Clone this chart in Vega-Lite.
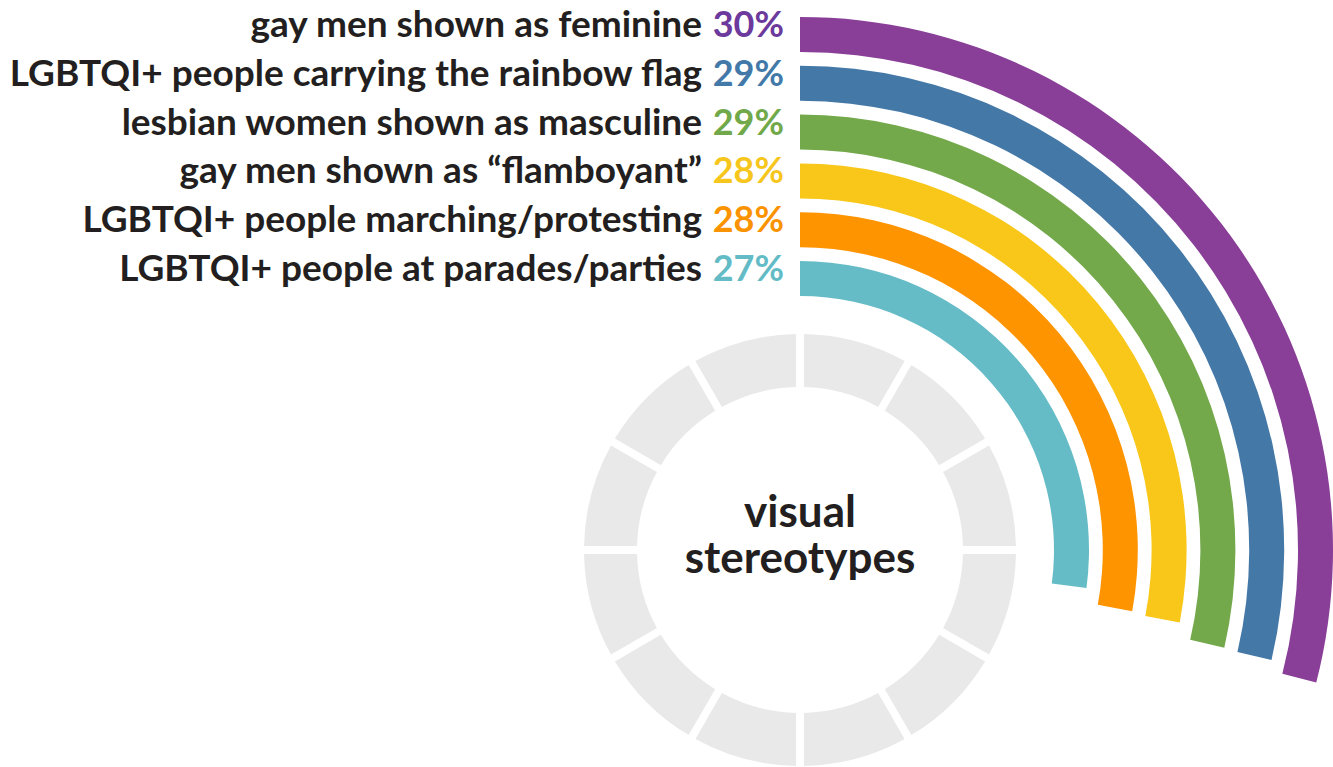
{
  "$schema": "https://vega.github.io/schema/vega-lite/v6.json",
  "width": 400,
  "height": 400,
  "autosize": "none",
  "padding": {"left": 600, "top": 350, "right": 333, "bottom": 17},
  "background": "white",
  "config": {"view": {"stroke": null}, "font": "Lato"},
  "datasets": {
    "items": [
      {"label": "gay men shown as feminine", "pct": "30%", "value": 29.0, "ring": 6},
      {"label": "LGBTQI+ people carrying the rainbow flag", "pct": "29%", "value": 28.65, "ring": 5},
      {"label": "lesbian women shown as masculine", "pct": "29%", "value": 28.6, "ring": 4},
      {"label": "gay men shown as “flamboyant”", "pct": "28%", "value": 28.0, "ring": 3},
      {"label": "LGBTQI+ people marching/protesting", "pct": "28%", "value": 27.9, "ring": 2},
      {"label": "LGBTQI+ people at parades/parties", "pct": "27%", "value": 27.1, "ring": 1}
    ],
    "segments": [
      {"segment": 1, "share": 1}, {"segment": 2, "share": 1}, {"segment": 3, "share": 1},
      {"segment": 4, "share": 1}, {"segment": 5, "share": 1}, {"segment": 6, "share": 1},
      {"segment": 7, "share": 1}, {"segment": 8, "share": 1}, {"segment": 9, "share": 1},
      {"segment": 10, "share": 1}, {"segment": 11, "share": 1}, {"segment": 12, "share": 1}
    ],
    "center": [{"title": ["visual", "stereotypes"]}]
  },
  "layer": [
    {
      "data": {"name": "segments"},
      "mark": {"type": "arc", "radius": 216, "radius2": 163, "padAngle": 0.029, "color": "#e8e9e8"},
      "encoding": {
        "theta": {"field": "share", "type": "quantitative", "stack": true},
        "detail": {"field": "segment", "type": "nominal"},
        "order": {"field": "segment", "type": "quantitative"}
      }
    },
    {
      "data": {"name": "items"},
      "mark": {"type": "arc", "radius2Offset": -35},
      "encoding": {
        "theta": {"field": "value", "type": "quantitative", "stack": null, "scale": {"domain": [0, 100], "range": [0, 6.283185307]}},
        "radius": {"field": "ring", "type": "quantitative", "scale": {"type": "linear", "domain": [1, 6], "range": [289, 533], "zero": false}},
        "radius2": {"field": "ring"},
        "color": {
          "field": "label", "type": "nominal", "legend": null,
          "scale": {
            "domain": ["gay men shown as feminine", "LGBTQI+ people carrying the rainbow flag", "lesbian women shown as masculine", "gay men shown as “flamboyant”", "LGBTQI+ people marching/protesting", "LGBTQI+ people at parades/parties"],
            "range": ["#893e97", "#4478a7", "#73a94b", "#f8c719", "#fe9400", "#65bcc6"]
          }
        }
      }
    },
    {
      "data": {"name": "items"},
      "mark": {"type": "text", "align": "right", "baseline": "alphabetic", "dx": -98, "dy": 20, "fontSize": 37, "fontWeight": "bold", "color": "#231f20"},
      "encoding": {
        "radius": {"field": "ring", "type": "quantitative"},
        "text": {"field": "label"}
      }
    },
    {
      "data": {"name": "items"},
      "mark": {"type": "text", "align": "right", "baseline": "alphabetic", "dx": -16, "dy": 20, "fontSize": 36, "fontWeight": "bold"},
      "encoding": {
        "radius": {"field": "ring", "type": "quantitative"},
        "text": {"field": "pct"},
        "color": {
          "field": "label", "type": "nominal", "legend": null,
          "scale": {
            "domain": ["gay men shown as feminine", "LGBTQI+ people carrying the rainbow flag", "lesbian women shown as masculine", "gay men shown as “flamboyant”", "LGBTQI+ people marching/protesting", "LGBTQI+ people at parades/parties"],
            "range": ["#6c3a9c", "#4279a8", "#71a94a", "#f6c61d", "#fb9300", "#63bbc6"]
          }
        }
      }
    },
    {
      "data": {"name": "center"},
      "mark": {"type": "text", "align": "center", "baseline": "alphabetic", "dy": -23, "lineHeight": 46, "fontSize": 44, "fontWeight": "bold", "color": "#231f20"},
      "encoding": {
        "text": {"field": "title"}
      }
    }
  ],
  "resolve": {"scale": {"theta": "independent", "color": "independent"}}
}
